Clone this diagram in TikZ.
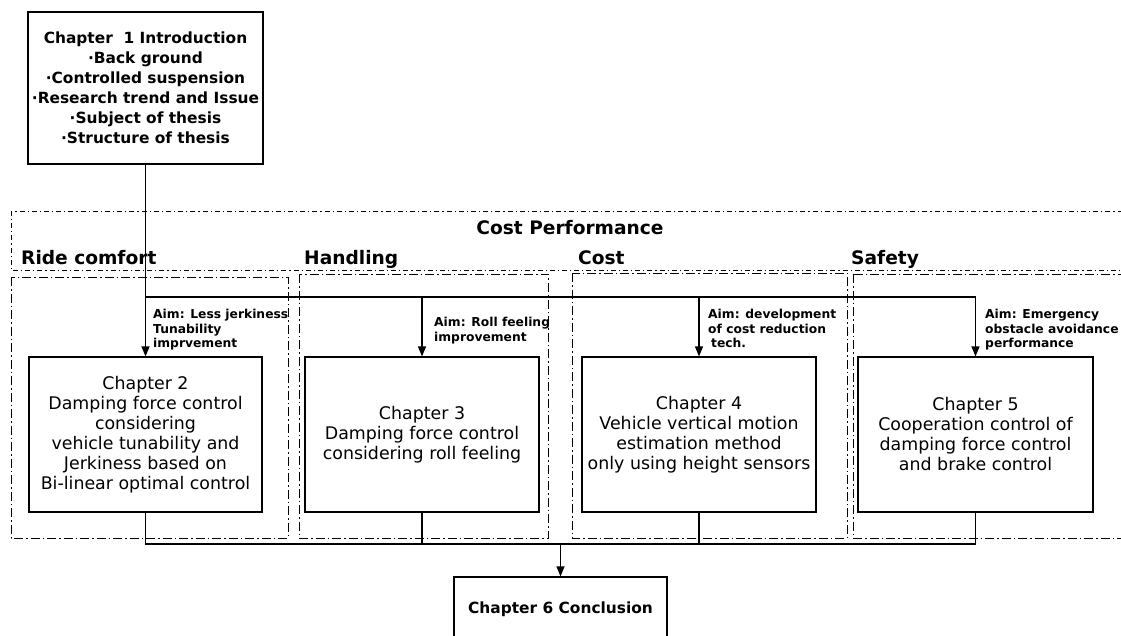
\documentclass[tikz,border=0pt]{standalone}
\usepackage{fontspec}
\setmainfont{DejaVu Sans}
\usetikzlibrary{arrows.meta}
\usetikzlibrary{positioning}
\tikzset{
chapter/.style={rectangle, draw, line width=1.2pt, align=center, inner sep=0pt, font=\fontsize{17.4}{20}\selectfont},
title/.style={font=\bfseries\fontsize{15.4}{20}\selectfont},
aim/.style={align=left, inner sep=0pt, anchor=north west, font=\bfseries\fontsize{12.3}{14.6}\selectfont},
heading/.style={inner sep=0pt, anchor=base west, font=\bfseries\fontsize{18.6}{20}\selectfont},
band/.style={line width=0.9pt, dash pattern=on 5pt off 3pt on 1.2pt off 3pt},
region/.style={line width=0.9pt, dash pattern=on 9pt off 3pt on 1.5pt off 3pt},
link/.style={line width=1.2pt},
arrow/.style={line width=1.2pt, -{Triangle[length=10pt, width=8pt]}}
}

\begin{document}
\begin{tikzpicture}[x=1pt, y=-1pt]
    \useasboundingbox (0,0) rectangle (1121,636);
    % group frames
    \draw[band] (11,211) rectangle (1130,270);
    \draw[region] (11,277) rectangle (288,538);
    \draw[region] (299,274) rectangle (548,538);
    \draw[region] (572,273) rectangle (847,538);
    \draw[region] (853,274) rectangle (1130,538);
    \node[heading, anchor=base] (cost_perf) at (570,235) {Cost Performance};
    \node[heading] (ride) at (21,265) {Ride comfort};
    \node[heading] (handling) at (304,265) {Handling};
    \node[heading] (cost) at (578,265) {Cost};
    \node[heading] (safety) at (851,265) {Safety};
    % chapters
    \node[chapter, title, minimum width=235pt, minimum height=152pt] (ch1) at (145.5,88) {Chapter\ \ 1 Introduction\\·Back ground\\·Controlled suspension\\·Research trend and Issue\\·Subject of thesis\\·Structure of thesis};
    \node[chapter, minimum width=233pt, minimum height=155pt] (ch2) at (145.5,434.5) {Chapter 2\\Damping force control\\considering\\vehicle tunability and\\Jerkiness based on\\Bi-linear optimal control};
    \node[chapter, minimum width=234pt, minimum height=155pt] (ch3) at (422,434.5) {Chapter 3\\Damping force control\\considering roll feeling};
    \node[chapter, minimum width=234pt, minimum height=155pt] (ch4) at (699,434.5) {Chapter 4\\Vehicle vertical motion\\estimation method\\only using height sensors};
    \node[chapter, minimum width=235pt, minimum height=155pt] (ch5) at (975.5,434.5) {Chapter 5\\Cooperation control of\\damping force control\\and brake control};
    \node[chapter, title, minimum width=213pt, minimum height=64pt] (ch6) at (560.5,609) {Chapter 6 Conclusion};
    % aims
    \node[aim] (aim2) at (153,309) {Aim: Less jerkiness\\Tunability\\imprvement};
    \node[aim] (aim3) at (434,317) {Aim: Roll feeling\\improvement};
    \node[aim] (aim4) at (708,309) {Aim: development\\of cost reduction\\\hspace{3pt}tech.};
    \node[aim] (aim5) at (985,309) {Aim: Emergency\\obstacle avoidance\\performance};
    % connectors
    \coordinate (bus) at (0,297);
    \coordinate (merge) at (0,544);
    \draw[arrow] (ch1.south) -- (ch2.north);
    \draw[link] (ch1.south |- bus) -- (ch5.north |- bus);
    \draw[arrow] (ch3.north |- bus) -- (ch3.north);
    \draw[arrow] (ch4.north |- bus) -- (ch4.north);
    \draw[arrow] (ch5.north |- bus) -- (ch5.north);
    \draw[link] (ch2.south) -- (ch2.south |- merge) -- (ch5.south |- merge) -- (ch5.south);
    \draw[link] (ch3.south) -- (ch3.south |- merge);
    \draw[link] (ch4.south) -- (ch4.south |- merge);
    \draw[arrow] (ch6.north |- merge) -- (ch6.north);
\end{tikzpicture}
\end{document}
